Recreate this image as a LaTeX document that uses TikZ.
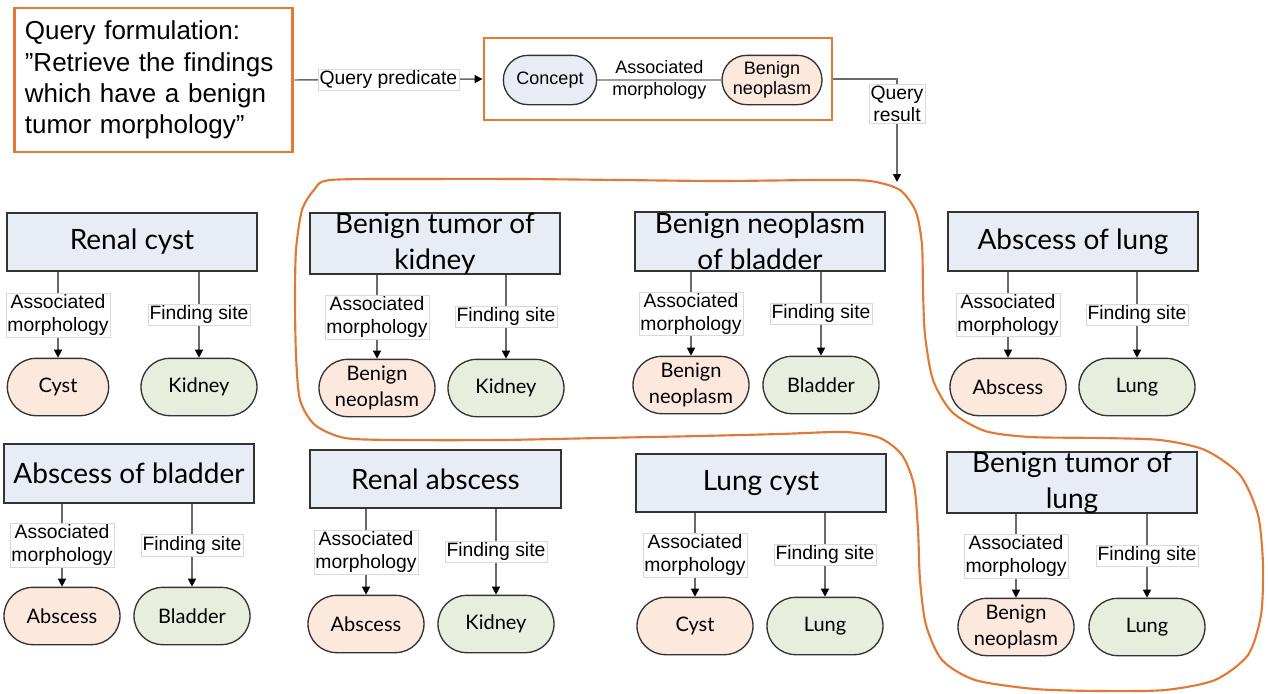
\documentclass[tikz,border=0pt]{standalone}
\usepackage{fontspec}
\setmainfont{Liberation Sans}
\newfontfamily\titlefont{Lato}
\usetikzlibrary{shapes.misc,arrows.meta}
\definecolor{orng}{RGB}{226,121,55}
\definecolor{tbox}{RGB}{232,236,244}
\definecolor{peach}{RGB}{252,232,220}
\definecolor{mint}{RGB}{232,238,222}
\definecolor{edgegray}{RGB}{105,105,105}
\tikzset{
 titlebox/.style={draw=black!80, line width=1.4pt, fill=tbox, minimum width=188pt, minimum height=44pt, inner sep=0pt, font=\titlefont\fontsize{21}{27}\selectfont, align=center},
 pill/.style={rounded rectangle, draw=black!80, line width=1pt, minimum width=87pt, minimum height=43pt, inner sep=0pt, font=\titlefont\fontsize{15}{19}\selectfont, align=center},
 morph/.style={pill, fill=peach},
 site/.style={pill, fill=mint},
 leftpill/.style={},
 rel/.style={draw=edgegray, line width=1.1pt, -{Triangle[length=6pt,width=6pt,color=black]}},
 lab/.style={fill=white, draw=black!15, line width=0.4pt, inner sep=1.2pt, font=\fontsize{14.5}{17}\selectfont, align=center},
 orangebox/.style={draw=orng, line width=2.2pt},
 curve/.style={draw=orng, line width=1.6pt},
}
\newcommand\findgroup[9]{%
 \node[titlebox] (#1) at (#2,#3) {#4};
 \node[morph, leftpill] (#1m) at (#6,#5) {#7};
 \node[site] (#1s) at (#8,#5) {#9};
 \draw[rel] (#1m.north |- #1.south) -- node[lab]{Associated\\morphology} (#1m.north);
 \draw[rel] (#1s.north |- #1.south) -- node[lab]{Finding site} (#1s.north);
}
\begin{document}
\begin{tikzpicture}[x=0.75pt,y=-0.75pt]
\useasboundingbox (0,0) rectangle (1268,693);
% query formulation
\node[orangebox, minimum width=209pt, minimum height=108pt, inner xsep=8pt, text width=193pt, align=left, font=\fontsize{19.5}{23.5}\selectfont] (q) at (153.5,80) {Query formulation:\\\char34 Retrieve the findings\\which have a benign\\tumor morphology\char34};
\node[orangebox, minimum width=261pt, minimum height=61.5pt] (mbox) at (658,79) {};
\node[pill, fill=tbox, minimum width=70pt, minimum height=37pt, font=\fontsize{13.5}{15}\selectfont] (concept) at (550,80) {Concept};
\node[morph, minimum width=75pt, minimum height=37pt, font=\fontsize{13.5}{15}\selectfont] (bn) at (772,80) {Benign\\neoplasm};
\draw[draw=edgegray, line width=1.1pt] (concept) -- node[align=center, font=\fontsize{13.5}{16}\selectfont]{Associated\\morphology} (bn);
\draw[rel] (q.east) -- node[lab]{Query predicate} (mbox.west);
\coordinate (qr) at (897,182);
\draw[rel] (mbox.east) -| node[lab, pos=0.62]{Query\\result} (qr);
% groups
\begin{scope}[leftpill/.style={minimum width=76pt}]
\findgroup{g1}{132}{242}{Renal cyst}{387}{58}{Cyst}{199}{Kidney}
\end{scope}
\findgroup{g2}{435}{243.5}{Benign tumor of\\kidney}{388}{377}{Benign\\neoplasm}{506}{Kidney}
\findgroup{g3}{760}{241.5}{Benign neoplasm\\of bladder}{385}{691}{Benign\\neoplasm}{821}{Bladder}
\findgroup{g4}{1073}{241.5}{Abscess of lung}{387}{1008}{Abscess}{1137}{Lung}
\findgroup{g5}{129}{473.5}{Abscess of bladder}{616}{62}{Abscess}{192}{Bladder}
\findgroup{g6}{435.5}{479}{Renal abscess}{624}{366}{Abscess}{496}{Kidney}
\findgroup{g7}{761}{483}{Lung cyst}{626}{695}{Cyst}{825}{Lung}
\findgroup{g8}{1072}{482.5}{Benign tumor of\\lung}{627}{1016}{Benign\\neoplasm}{1147}{Lung}
% result outline
\draw[curve] plot[smooth cycle, tension=0.45] coordinates {(330,180) (420,179) (520,179) (620,180) (720,181) (820,180) (870,181) (900,190) (916,212) (922,245) (923,290) (925,335) (933,380) (952,412) (985,431) (1030,437) (1100,438) (1160,440) (1205,450) (1240,475) (1258,515) (1263,565) (1261,615) (1248,655) (1215,680) (1165,690) (1100,691) (1035,689) (975,680) (942,660) (926,625) (920,580) (918,530) (914,485) (902,455) (880,438) (845,432) (780,434) (700,436) (600,438) (500,440) (400,440) (345,438) (315,425) (300,400) (296,355) (295,300) (296,250) (302,210) (314,190)};
\end{tikzpicture}
\end{document}
